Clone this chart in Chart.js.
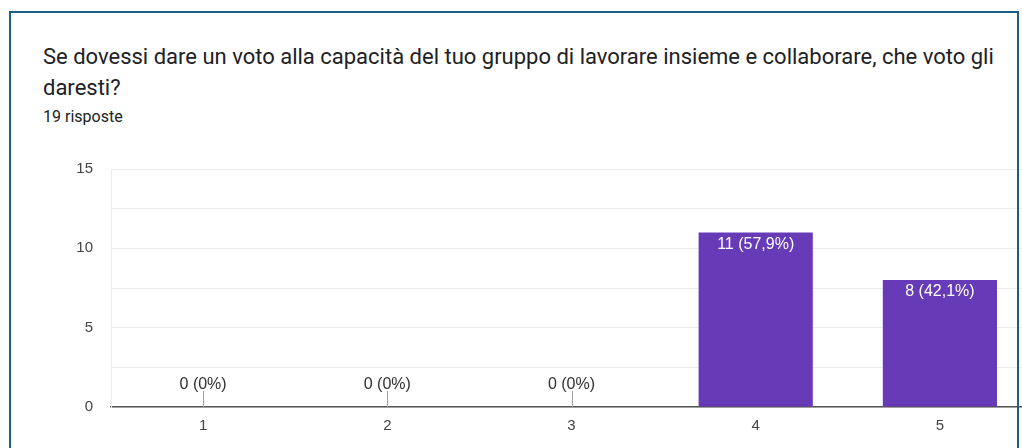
<!DOCTYPE html>
<html><head><meta charset="utf-8">
<script src="https://cdn.jsdelivr.net/npm/chart.js@4.4.1/dist/chart.umd.min.js"></script>
<style>
html,body{margin:0;padding:0;background:#fff;width:1022px;height:448px;overflow:hidden;position:relative}
#frame{position:absolute;left:9px;top:11px;width:1010px;height:460px;border:2px solid #1b5e86;border-bottom:none;box-sizing:border-box;pointer-events:none;z-index:5}
#title{position:absolute;left:43px;top:41px;width:970px;font-family:Roboto,sans-serif;font-size:22px;line-height:31px;color:#202124;margin:0;font-weight:400}
#sub{position:absolute;left:43px;top:107px;font-family:Roboto,sans-serif;font-size:16px;color:#202124}
#wrap{position:absolute;left:0;top:142px;width:1040px;height:306px}
</style></head><body>
<div id="frame"></div>
<div id="title">Se dovessi dare un voto alla capacità del tuo gruppo di lavorare insieme e collaborare, che voto gli daresti?</div>
<div id="sub">19 risposte</div>
<div id="wrap"><canvas id="c" width="1040" height="306"></canvas></div>
<script>
const categories = ['1','2','3','4','5'];
const counts = [0,0,0,11,8];
const percentLabels = ['0%','0%','0%','57,9%','42,1%'];
const yTicks = [0,5,10,15];

const labelPlugin = {
  id:'barLabels',
  afterDatasetsDraw(chart){
    const ctx = chart.ctx;
    const meta = chart.getDatasetMeta(0);
    ctx.save();
    ctx.font = '16px "Liberation Sans", Arial, sans-serif';
    ctx.textAlign = 'center';
    meta.data.forEach((bar,i)=>{
      const txt = counts[i] + ' (' + percentLabels[i] + ')';
      if(counts[i] === 0){
        ctx.strokeStyle = '#9e9e9e';
        ctx.lineWidth = 1;
        ctx.beginPath();
        ctx.moveTo(Math.round(bar.x)+0.5, bar.base);
        ctx.lineTo(Math.round(bar.x)+0.5, bar.base-16);
        ctx.stroke();
        ctx.fillStyle = '#303030';
        ctx.textBaseline = 'alphabetic';
        ctx.fillText(txt, bar.x, bar.base-18);
      } else {
        ctx.fillStyle = '#ffffff';
        ctx.textBaseline = 'top';
        ctx.fillText(txt, bar.x, bar.y+4);
      }
    });
    ctx.restore();
  }
};

new Chart(document.getElementById('c'), {
  type:'bar',
  data:{labels:categories, datasets:[{data:counts, backgroundColor:'#673ab7', barPercentage:0.62, categoryPercentage:1.0}]},
  options:{
    responsive:false, animation:false,
    layout:{padding:{top:10,right:8,left:0,bottom:0}},
    plugins:{legend:{display:false},tooltip:{enabled:false}},
    scales:{
      x:{
        grid:{display:false, drawTicks:false},
        border:{display:true,color:'#555555',width:1.5},
        ticks:{color:'#444',font:{family:'"Liberation Sans", Arial, sans-serif',size:15},padding:10},
        afterFit(s){s.height=41;}
      },
      y:{
        min:0,max:15,
        grid:{color:'#ececec',drawTicks:false},
        border:{display:true,color:'#ececec'},
        ticks:{stepSize:2.5,color:'#444',font:{family:'"Liberation Sans", Arial, sans-serif',size:15},padding:18,
          callback:(v)=> yTicks.includes(v) ? String(v) : ''},
        afterFit(s){s.width=111;}
      }
    }
  },
  plugins:[labelPlugin]
});
</script>
</body></html>
